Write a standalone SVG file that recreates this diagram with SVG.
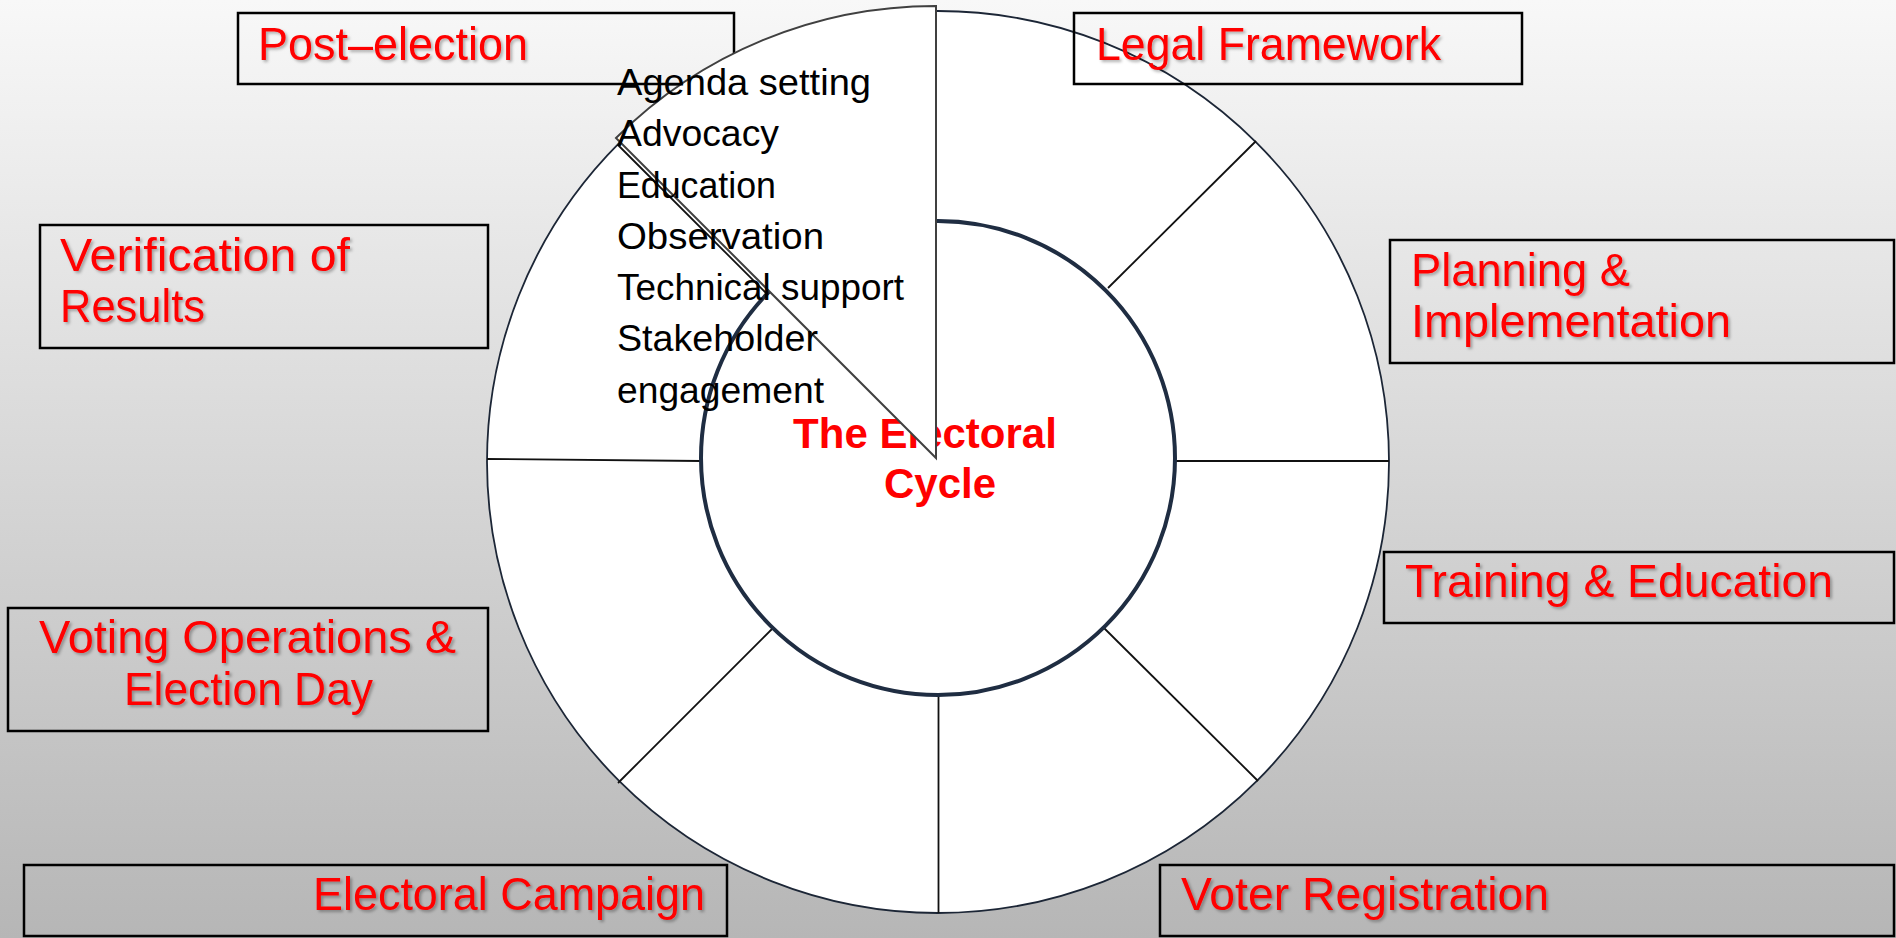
<svg xmlns="http://www.w3.org/2000/svg" width="1896" height="938" viewBox="0 0 1896 938">
<defs>
<linearGradient id="bg" x1="0" y1="0" x2="0" y2="1">
<stop offset="0" stop-color="#f8f8f8"/>
<stop offset="1" stop-color="#b6b6b6"/>
</linearGradient>
<filter id="sh" x="-5%" y="-20%" width="110%" height="140%">
<feDropShadow dx="2" dy="2" stdDeviation="1.5" flood-color="#000" flood-opacity="0.3"/>
</filter>
</defs>
<style>
.box{fill:none;stroke:#000;stroke-width:2.5}
.lbl{font-family:"Liberation Sans",Arial,sans-serif;font-size:46px;fill:#ff0000;filter:url(#sh)}
.seg{stroke:#111;stroke-width:1.8;fill:none}
.item{font-family:"Liberation Sans",Arial,sans-serif;font-size:36px;fill:#000}
.title{font-family:"Liberation Sans",Arial,sans-serif;font-size:42px;font-weight:bold;fill:#ff0000;text-anchor:middle}
</style>
<rect width="1896" height="938" fill="url(#bg)"/>
<g id="ring">
<circle cx="938" cy="462" r="451" fill="#fff" stroke="#1c2636" stroke-width="1.8"/>
</g>
<g id="connectors">
<line class="seg" x1="1108" y1="288" x2="1256" y2="141"/>
<line class="seg" x1="1175" y1="461" x2="1389" y2="461"/>
<line class="seg" x1="1104" y1="628" x2="1258" y2="781"/>
<line class="seg" x1="938.5" y1="694" x2="938.5" y2="913"/>
<line class="seg" x1="773" y1="628" x2="618" y2="783"/>
<line class="seg" x1="487" y1="459" x2="701" y2="461"/>
<line class="seg" x1="618" y1="145" x2="770" y2="297"/>
</g>
<g id="center">
<circle cx="938" cy="458" r="237" fill="#fff" stroke="#1f2d42" stroke-width="4"/>
<text class="title" x="925" y="448">The Electoral</text>
<text class="title" x="940" y="498">Cycle</text>
</g>
<g id="post-election">
<rect class="box" x="238" y="13" width="496" height="71"/>
<text class="lbl" x="258" y="60" textLength="270" lengthAdjust="spacingAndGlyphs">Post–election</text>
</g>
<g id="legal-framework">
<rect class="box" x="1074" y="13" width="448" height="71"/>
<text class="lbl" x="1096" y="60" textLength="345" lengthAdjust="spacingAndGlyphs">Legal Framework</text>
</g>
<g id="planning">
<rect class="box" x="1390" y="240" width="504" height="123"/>
<text class="lbl" x="1411" y="286" textLength="219" lengthAdjust="spacingAndGlyphs">Planning &amp;</text>
<text class="lbl" x="1411" y="337" textLength="320" lengthAdjust="spacingAndGlyphs">Implementation</text>
</g>
<g id="training">
<rect class="box" x="1384" y="552" width="510" height="71"/>
<text class="lbl" x="1405" y="597" textLength="428" lengthAdjust="spacingAndGlyphs">Training &amp; Education</text>
</g>
<g id="voter-registration">
<rect class="box" x="1160" y="865" width="734" height="71"/>
<text class="lbl" x="1181" y="910" textLength="368" lengthAdjust="spacingAndGlyphs">Voter Registration</text>
</g>
<g id="electoral-campaign">
<rect class="box" x="24" y="865" width="703" height="71"/>
<text class="lbl" x="313" y="910" textLength="392" lengthAdjust="spacingAndGlyphs">Electoral Campaign</text>
</g>
<g id="voting-operations">
<rect class="box" x="8" y="608" width="480" height="123"/>
<text class="lbl" x="39" y="653" textLength="417" lengthAdjust="spacingAndGlyphs">Voting Operations &amp;</text>
<text class="lbl" x="124" y="705" textLength="249" lengthAdjust="spacingAndGlyphs">Election Day</text>
</g>
<g id="verification">
<rect class="box" x="40" y="225" width="448" height="123"/>
<text class="lbl" x="60" y="271" textLength="290" lengthAdjust="spacingAndGlyphs">Verification of</text>
<text class="lbl" x="60" y="322" textLength="145" lengthAdjust="spacingAndGlyphs">Results</text>
</g>
<g id="post-election-wedge">
<path d="M936,458 L936,6 A452,452 0 0 0 616,138 Z" fill="#fff" stroke="#404040" stroke-width="2"/>
<text class="item" x="617" y="95" textLength="254" lengthAdjust="spacingAndGlyphs">Agenda setting</text>
<text class="item" x="617" y="146" textLength="162" lengthAdjust="spacingAndGlyphs">Advocacy</text>
<text class="item" x="617" y="198" textLength="159" lengthAdjust="spacingAndGlyphs">Education</text>
<text class="item" x="617" y="249" textLength="207" lengthAdjust="spacingAndGlyphs">Observation</text>
<text class="item" x="617" y="300" textLength="287" lengthAdjust="spacingAndGlyphs">Technical support</text>
<text class="item" x="617" y="351" textLength="201" lengthAdjust="spacingAndGlyphs">Stakeholder</text>
<text class="item" x="617" y="403" textLength="207" lengthAdjust="spacingAndGlyphs">engagement</text>
</g>
</svg>
